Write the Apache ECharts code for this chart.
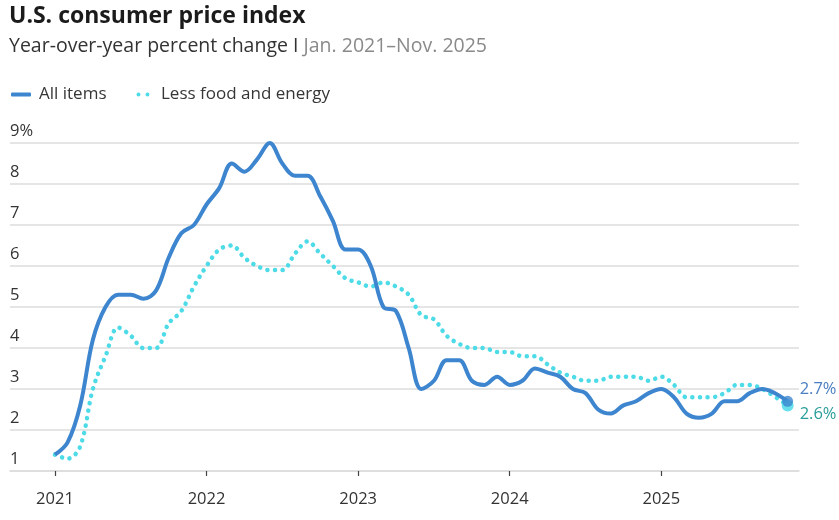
<!DOCTYPE html>
<html>
<head>
<meta charset="utf-8">
<script src="https://cdn.jsdelivr.net/npm/echarts@6/dist/echarts.min.js"></script>
<style>
  html, body { margin: 0; padding: 0; background: #fff; }
  #chart { width: 839px; height: 520px; }
</style>
</head>
<body>
<div id="chart"></div>
<script>
// Monthly, Jan. 2021 to Nov. 2025 (no Oct. 2025 release)
const months = [
  '2021-01', '2021-02', '2021-03', '2021-04', '2021-05', '2021-06', '2021-07', '2021-08', '2021-09', '2021-10', '2021-11', '2021-12',
  '2022-01', '2022-02', '2022-03', '2022-04', '2022-05', '2022-06', '2022-07', '2022-08', '2022-09', '2022-10', '2022-11', '2022-12',
  '2023-01', '2023-02', '2023-03', '2023-04', '2023-05', '2023-06', '2023-07', '2023-08', '2023-09', '2023-10', '2023-11', '2023-12',
  '2024-01', '2024-02', '2024-03', '2024-04', '2024-05', '2024-06', '2024-07', '2024-08', '2024-09', '2024-10', '2024-11', '2024-12',
  '2025-01', '2025-02', '2025-03', '2025-04', '2025-05', '2025-06', '2025-07', '2025-08', '2025-09', '2025-10', '2025-11'
];

const allItems = [
  1.4, 1.7, 2.6, 4.2, 5.0, 5.3, 5.3, 5.2, 5.4, 6.2, 6.8, 7.0,
  7.5, 7.9, 8.5, 8.3, 8.6, 9.0, 8.5, 8.2, 8.2, 7.7, 7.1, 6.4,
  6.4, 6.0, 5.0, 4.9, 4.0, 3.0, 3.2, 3.7, 3.7, 3.2, 3.1, 3.3,
  3.1, 3.2, 3.5, 3.4, 3.3, 3.0, 2.9, 2.5, 2.4, 2.6, 2.7, 2.9,
  3.0, 2.8, 2.4, 2.3, 2.4, 2.7, 2.7, 2.9, 3.0, null, 2.7
];

const lessFoodEnergy = [
  1.4, 1.3, 1.6, 3.0, 3.8, 4.5, 4.3, 4.0, 4.0, 4.6, 4.9, 5.5,
  6.0, 6.4, 6.5, 6.2, 6.0, 5.9, 5.9, 6.3, 6.6, 6.3, 6.0, 5.7,
  5.6, 5.5, 5.6, 5.5, 5.3, 4.8, 4.7, 4.3, 4.1, 4.0, 4.0, 3.9,
  3.9, 3.8, 3.8, 3.6, 3.4, 3.3, 3.2, 3.2, 3.3, 3.3, 3.3, 3.2,
  3.3, 3.1, 2.8, 2.8, 2.8, 2.9, 3.1, 3.1, 3.0, null, 2.6
];

const yearLabels = ['2021', '2022', '2023', '2024', '2025'];
const yTicks = [1, 2, 3, 4, 5, 6, 7, 8, 9];

const FONT = '"Open Sans", sans-serif';
const BLUE = '#3d86cf';
const CYAN = '#4ddbe8';

// x position of each month = months since Jan. 2021
function monthIndex(m) {
  const [y, mo] = m.split('-').map(Number);
  return (y - 2021) * 12 + (mo - 1);
}

const yearTicks = yearLabels.map(y => monthIndex(y + '-01'));

function toPoints(values) {
  return months.map((m, i) => [monthIndex(m), values[i]]);
}

function lastPoint(values) {
  for (let i = values.length - 1; i >= 0; i--) {
    if (values[i] != null) {
      return [monthIndex(months[i]), values[i]];
    }
  }
  return null;
}

const chart = echarts.init(document.getElementById('chart'), null, { renderer: 'canvas' });

const lastAll = lastPoint(allItems);
const lastCore = lastPoint(lessFoodEnergy);

chart.setOption({
  animation: false,
  backgroundColor: '#fff',
  textStyle: { fontFamily: FONT },
  title: {
    left: 4,
    top: 0,
    text: 'U.S. consumer price index',
    textStyle: { fontFamily: FONT, fontSize: 23, fontWeight: 'bold', color: '#1b1b1b' },
    subtext: '{a|Year-over-year percent change I }{b|Jan. 2021–Nov. 2025}',
    itemGap: 8,
    subtextStyle: {
      rich: {
        a: { fontFamily: FONT, fontSize: 19.5, color: '#333' },
        b: { fontFamily: FONT, fontSize: 19.5, color: '#8a8a8a' }
      }
    }
  },
  legend: {
    left: 6,
    top: 81,
    itemGap: 30,
    itemWidth: 20,
    itemHeight: 4,
    textStyle: { fontFamily: FONT, fontSize: 17, color: '#363636', padding: [0, 0, 0, 3] },
    data: [
      { name: 'All items', icon: 'roundRect', itemStyle: { color: BLUE } },
      {
        name: 'Less food and energy',
        icon: 'path://M0,2a2,2 0 1,0 4,0a2,2 0 1,0 -4,0zM9,2a2,2 0 1,0 4,0a2,2 0 1,0 -4,0z',
        itemStyle: { color: CYAN }
      }
    ]
  },
  grid: {
    left: 10,
    right: 40,
    top: 143,
    bottom: 49,
    containLabel: false
  },
  xAxis: {
    type: 'value',
    min: -3.56,
    max: 58.9,
    axisLine: { show: true, lineStyle: { color: '#dcdcdc', width: 1.5 } },
    axisTick: {
      show: true,
      customValues: yearTicks,
      length: 5,
      lineStyle: { color: '#444', width: 1.2 }
    },
    axisLabel: {
      customValues: yearTicks,
      margin: 20,
      fontFamily: FONT,
      fontSize: 16.5,
      color: '#333',
      formatter: v => yearLabels[yearTicks.indexOf(v)] || ''
    },
    splitLine: { show: false }
  },
  yAxis: {
    type: 'value',
    min: yTicks[0],
    max: yTicks[yTicks.length - 1],
    interval: 1,
    axisLine: { show: false },
    axisTick: { show: false },
    axisLabel: {
      inside: true,
      margin: 0,
      align: 'left',
      verticalAlign: 'bottom',
      padding: [0, 0, 3, 0],
      fontFamily: FONT,
      fontSize: 16.5,
      color: '#333',
      formatter: v => (v === yTicks[yTicks.length - 1] ? v + '%' : String(v))
    },
    splitLine: { lineStyle: { color: '#dcdcdc', width: 1.5 } }
  },
  series: [
    {
      name: 'Less food and energy',
      type: 'line',
      data: toPoints(lessFoodEnergy),
      connectNulls: true,
      smooth: 0.35,
      showSymbol: false,
      clip: false,
      z: 2,
      lineStyle: { color: CYAN, width: 4.5, type: [0.1, 7.5], cap: 'round' },
      itemStyle: { color: CYAN },
      endLabel: {
        show: true,
        offset: [4, 9],
        fontFamily: FONT,
        fontSize: 16.5,
        color: '#2a9e99',
        formatter: p => p.value[1].toFixed(1) + '%'
      },
      markPoint: {
        symbol: 'circle',
        symbolSize: 12,
        silent: true,
        label: { show: false },
        itemStyle: { color: 'rgba(77, 219, 232, 0.85)' },
        data: [{ coord: lastCore }]
      }
    },
    {
      name: 'All items',
      type: 'line',
      data: toPoints(allItems),
      connectNulls: true,
      smooth: 0.35,
      showSymbol: false,
      clip: false,
      z: 3,
      lineStyle: { color: BLUE, width: 4 },
      itemStyle: { color: BLUE },
      endLabel: {
        show: true,
        offset: [4, -12],
        fontFamily: FONT,
        fontSize: 16.5,
        color: '#4a7fc1',
        formatter: p => p.value[1].toFixed(1) + '%'
      },
      markPoint: {
        symbol: 'circle',
        symbolSize: 11,
        silent: true,
        label: { show: false },
        itemStyle: { color: 'rgba(61, 134, 207, 0.8)' },
        data: [{ coord: lastAll }]
      }
    }
  ]
});
</script>
</body>
</html>
